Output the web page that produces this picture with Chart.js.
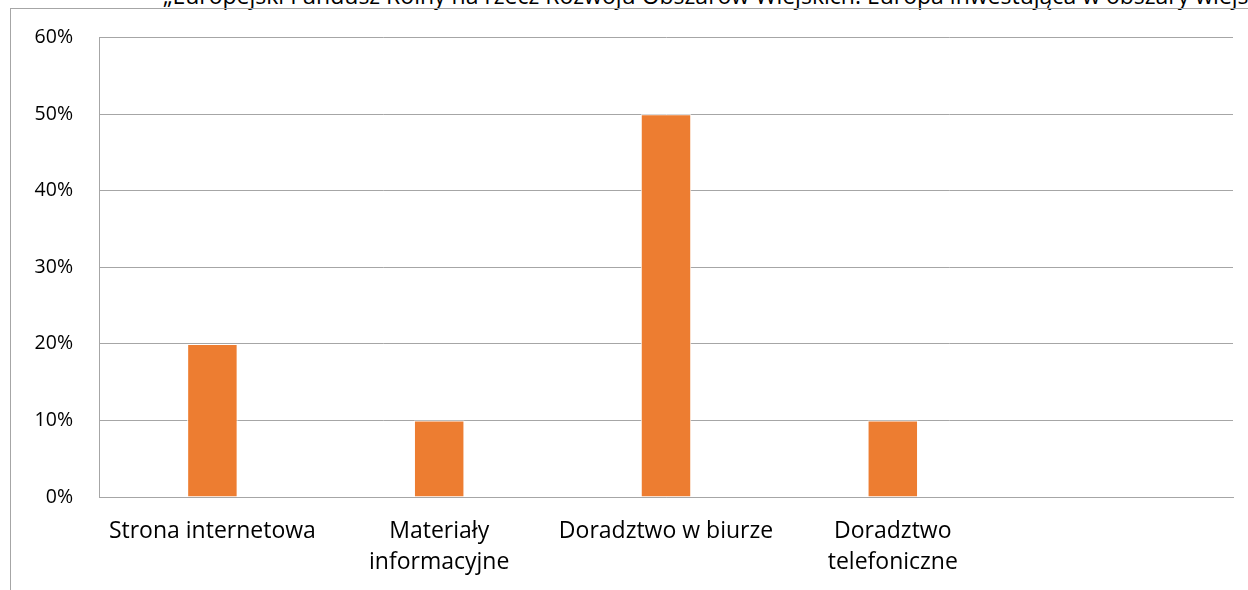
<!DOCTYPE html>
<html lang="pl">
<head>
<meta charset="utf-8">
<title>Wykres</title>
<script src="https://cdn.jsdelivr.net/npm/chart.js@4/dist/chart.umd.min.js"></script>
<style>
  html, body { margin: 0; padding: 0; background: #fff; overflow: hidden; }
  body { width: 1248px; height: 590px; position: relative; }
  .header-text {
    position: absolute; left: 163px; top: -16px;
    font-family: "Open Sans", sans-serif; font-size: 23px; line-height: 23px;
    white-space: nowrap; color: #000;
  }
  .frame {
    position: absolute; left: 10px; top: 8px; width: 1300px; height: 700px;
    border-left: 1px solid #a6a6a6; border-top: 1px solid #a6a6a6;
  }
  #wrap { position: absolute; left: 0; top: 0; width: 1248px; height: 590px; }
</style>
</head>
<body>
<div class="header-text">„Europejski Fundusz Rolny na rzecz Rozwoju Obszarów Wiejskich: Europa inwestująca w obszary wiejskie”</div>
<div class="frame"></div>
<div id="wrap"><canvas id="chart"></canvas></div>
<script>
// dane wykresu
const categories = [
  'Strona internetowa',
  ['Materiały', 'informacyjne'],
  'Doradztwo w biurze',
  ['Doradztwo', 'telefoniczne'],
  ''
];
const values = [0.20, 0.10, 0.50, 0.10, null];
const yTicks = [0, 0.1, 0.2, 0.3, 0.4, 0.5, 0.6];

const gridColor = '#a6a6a6';
const xFont = { family: '"Open Sans", sans-serif', size: 23, lineHeight: 1.35 };
const yFont = { family: '"Open Sans", sans-serif', size: 19.5 };

new Chart(document.getElementById('chart'), {
  type: 'bar',
  data: {
    labels: categories,
    datasets: [{
      data: values,
      backgroundColor: '#ed7d31',
      borderColor: '#ffffff',
      borderWidth: 1,
      barPercentage: 0.445,
      categoryPercentage: 0.5
    }]
  },
  options: {
    responsive: true,
    maintainAspectRatio: false,
    animation: false,
    layout: { padding: { left: 0, right: 15, top: 27, bottom: 0 } },
    plugins: { legend: { display: false }, tooltip: { enabled: false } },
    scales: {
      x: {
        grid: { display: false, drawTicks: false },
        border: { color: gridColor },
        ticks: {
          color: '#000', font: xFont, padding: 19, maxRotation: 0, autoSkip: false
        },
        afterFit: s => { s.height = 93; }
      },
      y: {
        min: 0, max: 0.6,
        afterBuildTicks: s => { s.ticks = yTicks.map(v => ({ value: v })); },
        grid: { color: gridColor, drawTicks: false },
        border: { color: gridColor },
        ticks: {
          color: '#000', font: yFont, padding: 26,
          callback: v => Math.round(v * 100) + '%'
        },
        afterFit: s => { s.width = 99; }
      }
    }
  }
});
</script>
</body>
</html>
